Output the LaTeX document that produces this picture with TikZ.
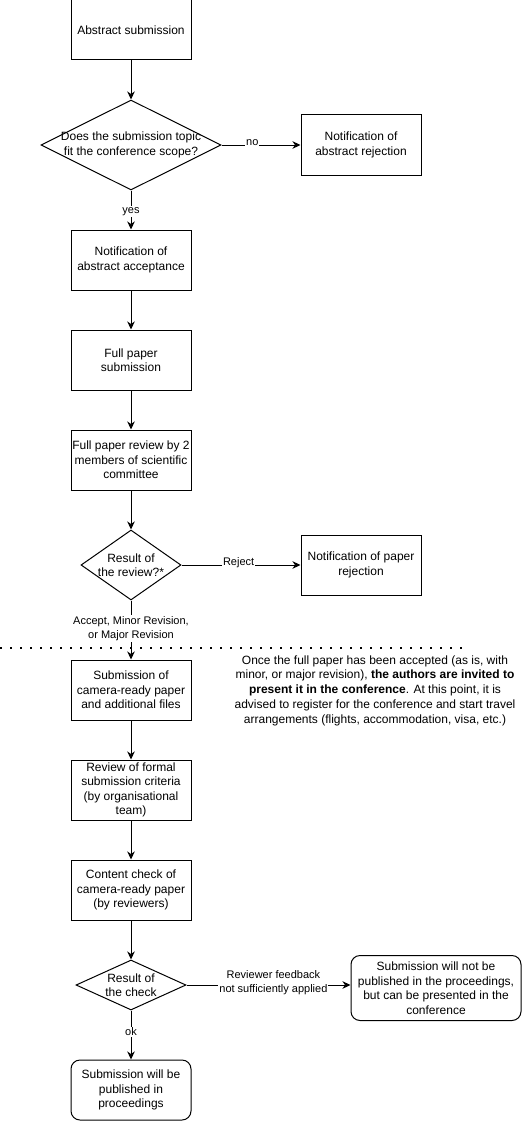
\documentclass[tikz,border=0pt]{standalone}
\usepackage{fontspec}
\setmainfont{Liberation Sans}
\usetikzlibrary{shapes.geometric,arrows.meta}
\begin{document}
\begin{tikzpicture}[x=1pt,y=-1pt,
 box/.style={draw, line width=1pt, minimum width=120pt, minimum height=60pt, inner sep=0pt, align=center, font=\fontsize{12}{14.5}\selectfont},
 rbox/.style={box, rounded corners=9pt},
 decision/.style={draw, line width=1pt, diamond, inner sep=0pt},
 dtext/.style={align=center, font=\fontsize{12}{14.5}\selectfont, inner sep=0pt},
 flow/.style={line width=1pt, -{Stealth[length=8pt,width=7.5pt,inset=2.5pt]}},
 lbase/.style={fill=white, inner sep=1pt, align=center, font=\fontsize{11}{14}\selectfont},
 elabel/.style={lbase, yshift=2pt},
 vlabel/.style={lbase, yshift=-1.5pt},
 sepline/.style={line width=2pt, dash pattern=on 2pt off 8pt},
 notetext/.style={align=center, inner sep=0pt, font=\fontsize{12}{14.7}\selectfont}
]
\useasboundingbox (0,0) rectangle (522,1121);

% nodes
\node[box] (b1) at (131,30) {Abstract submission};
\node[decision, minimum width=180pt, minimum height=90pt] (d1) at (131,145) {};
\node[dtext] (d1t) at (d1.center) {Does the submission topic\\fit the conference scope?};
\node[box] (rej1) at (361,145) {Notification of\\abstract rejection};
\node[box] (b3) at (131,260) {Notification of\\abstract acceptance};
\node[box] (b4) at (131,360) {Full paper\\submission};
\node[box] (b5) at (131,460) {Full paper review by 2\\members of scientific\\committee};
\node[decision, minimum width=100pt, minimum height=70pt] (d2) at (131,565) {};
\node[dtext] (d2t) at (d2.center) {Result of\\the review?*};
\node[box] (rej2) at (361,565) {Notification of paper\\rejection};
\node[box] (b7) at (131,690) {Submission of\\camera-ready paper\\and additional files};
\node[box] (b8) at (131,790) {Review of formal\\submission criteria\\(by organisational\\team)};
\node[box] (b9) at (131,890) {Content check of\\camera-ready paper\\(by reviewers)};
\node[decision, minimum width=110pt, minimum height=50pt] (d3) at (131,985) {};
\node[dtext] (d3t) at (d3.center) {Result of\\the check};
\node[rbox, minimum width=170pt, minimum height=65pt] (b10) at (436,988) {Submission will not be\\published in the proceedings,\\but can be presented in the\\conference};
\node[rbox] (b11) at (131,1090) {Submission will be\\published in\\proceedings};

\node[notetext] (note) at (375,690.5) {Once the full paper has been accepted (as is, with\\minor, or major revision), \textbf{the authors are invited to}\\\textbf{present it in the conference}. At this point, it is\\advised to register for the conference and start travel\\arrangements (flights, accommodation, visa, etc.)};

% separator
\coordinate (sepL) at (0,647.5);
\coordinate (sepR) at (468,647.5);
\draw[sepline] (sepL) -- (sepR);

% connectors
\draw[flow] (b1) -- (d1);
\draw[flow] (d1.east) -- node[elabel, pos=0.39] {no} (rej1.west);
\draw[flow] (d1.south) -- node[vlabel, pos=0.5] {yes} (b3.north);
\draw[flow] (b3) -- (b4);
\draw[flow] (b4) -- (b5);
\draw[flow] (b5) -- (d2);
\draw[flow] (d2.east) -- node[elabel, pos=0.48] {Reject} (rej2.west);
\draw[flow] (d2.south) -- node[vlabel, pos=0.45] {Accept, Minor Revision,\\or Major Revision} (b7.north);
\draw[flow] (b7) -- (b8);
\draw[flow] (b8) -- (b9);
\draw[flow] (b9) -- (d3);
\draw[flow] (d3.east) -- node[elabel, pos=0.53] {Reviewer feedback\\not sufficiently applied} (d3.east -| b10.west);
\draw[flow] (d3.south) -- node[vlabel, pos=0.4] {ok} (b11.north);
\end{tikzpicture}
\end{document}
